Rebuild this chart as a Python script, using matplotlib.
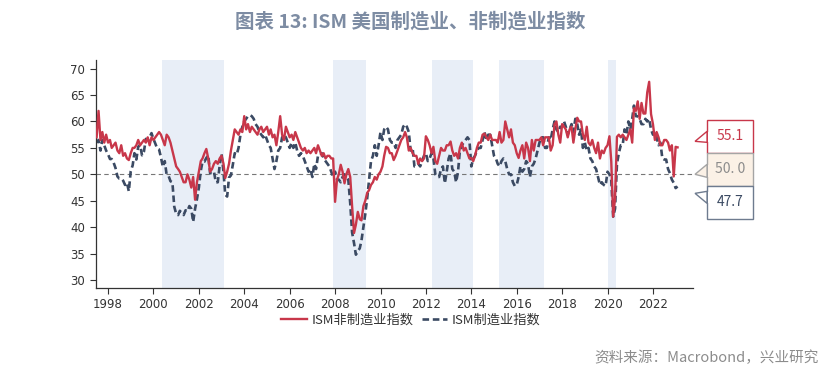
import numpy as np
import pandas as pd
import matplotlib
matplotlib.use("Agg")
import matplotlib.pyplot as plt
from matplotlib import dates as mdates
from matplotlib.patches import Polygon, Rectangle

plt.rcParams['font.family'] = ['Noto Sans CJK SC', 'DejaVu Sans']

start_month = "1997-07"

# ISM services (non-manufacturing), monthly, Jul 1997 .. Feb 2023
services = [
    57.0, 62.0, 56.5, 58.0, 56.0, 57.5,                                   # 1997 H2
    56.0, 56.5, 55.0, 55.5, 56.0, 54.5, 54.0, 55.5, 53.5, 54.0, 53.0, 52.7,  # 1998
    54.0, 55.0, 55.0, 55.5, 56.5, 55.5, 56.0, 56.5, 56.0, 57.0, 55.5, 57.0,  # 1999
    56.5, 57.0, 57.5, 58.0, 57.5, 56.5, 55.5, 57.5, 57.0, 56.0, 54.5, 53.0,  # 2000
    51.5, 51.0, 50.5, 49.5, 48.5, 48.5, 50.0, 49.0, 47.5, 49.5, 45.2, 48.5,  # 2001
    50.5, 52.5, 53.0, 54.0, 54.8, 53.0, 50.5, 51.0, 52.0, 52.5, 52.0, 53.0,  # 2002
    53.5, 52.0, 49.3, 50.5, 52.0, 54.5, 56.5, 58.5, 58.0, 57.5, 58.5, 58.0,  # 2003
    61.0, 58.5, 59.5, 58.0, 59.0, 58.5, 58.0, 57.5, 58.5, 59.0, 58.0, 58.5,  # 2004
    59.0, 57.5, 58.5, 57.0, 57.5, 55.5, 58.0, 61.0, 57.5, 56.5, 59.0, 58.0,  # 2005
    57.0, 57.5, 56.5, 58.0, 57.0, 56.0, 55.0, 54.5, 55.0, 54.0, 54.5, 54.0,  # 2006
    54.5, 55.0, 54.0, 55.5, 54.5, 53.5, 54.0, 53.0, 53.5, 53.5, 53.0, 53.0,  # 2007
    44.8, 49.0, 50.0, 51.8, 50.5, 48.3, 50.0, 51.0, 49.5, 44.0, 38.9, 40.5,  # 2008
    42.9, 41.5, 41.3, 44.0, 45.0, 46.5, 47.0, 48.0, 48.5, 49.5, 49.0, 50.0,  # 2009
    50.5, 51.5, 53.5, 55.2, 55.0, 54.0, 54.0, 52.7, 53.5, 54.5, 55.5, 56.5,  # 2010
    57.0, 58.0, 57.0, 54.5, 55.0, 54.0, 53.5, 53.5, 52.0, 53.0, 52.5, 53.0,  # 2011
    57.2, 56.5, 55.5, 54.0, 55.2, 52.5, 52.0, 53.5, 55.0, 54.5, 54.5, 55.5,  # 2012
    55.5, 56.2, 54.5, 53.5, 54.0, 53.0, 55.0, 56.0, 54.5, 55.0, 54.0, 53.0,  # 2013
    53.1, 52.5, 53.5, 55.0, 56.0, 56.0, 57.5, 57.7, 57.0, 56.5, 57.5, 56.5,  # 2014
    56.5, 56.5, 56.0, 58.0, 56.0, 56.5, 60.0, 58.5, 57.0, 58.5, 56.0, 55.5,  # 2015
    54.0, 53.1, 54.5, 55.5, 53.0, 56.0, 55.0, 52.5, 56.5, 54.5, 56.5, 56.5,  # 2016
    56.5, 57.0, 55.5, 57.0, 57.0, 57.0, 54.5, 55.5, 59.5, 60.0, 57.5, 56.0,  # 2017
    59.5, 59.0, 58.5, 57.0, 58.5, 59.0, 56.0, 58.5, 60.7, 60.0, 60.0, 57.5,  # 2018
    56.5, 59.0, 56.0, 55.5, 56.5, 55.0, 54.0, 56.0, 53.0, 54.5, 54.0, 55.0,  # 2019
    55.5, 57.2, 52.5, 42.0, 45.5, 57.1, 57.5, 57.0, 57.5, 57.0, 56.5, 57.5,  # 2020
    58.5, 56.0, 62.5, 62.0, 63.8, 60.5, 63.5, 61.5, 61.5, 65.5, 67.5, 61.4,  # 2021
    59.5, 56.5, 58.0, 57.0, 55.5, 55.5, 56.5, 56.5, 56.0, 54.5, 55.5, 49.6,  # 2022
    55.2, 55.1,                                                           # 2023
]

# ISM manufacturing PMI, monthly, Jul 1997 .. Feb 2023
manufacturing = [
    56.0, 56.5, 54.5, 56.5, 55.5, 54.5,                                   # 1997 H2
    53.8, 52.9, 52.9, 52.2, 51.2, 49.6, 49.2, 49.2, 48.8, 48.0, 48.4, 46.8,  # 1998
    50.6, 51.7, 54.0, 52.8, 55.2, 55.6, 53.6, 54.3, 56.7, 56.5, 57.0, 57.8,  # 1999
    56.7, 55.8, 54.9, 54.7, 53.2, 51.4, 52.5, 49.9, 49.7, 48.7, 48.5, 43.9,  # 2000
    42.5, 42.3, 43.1, 42.7, 42.3, 43.2, 43.0, 44.0, 43.5, 41.0, 43.5, 45.3,  # 2001
    47.5, 50.7, 52.4, 52.4, 53.1, 53.6, 50.2, 50.3, 50.5, 48.5, 48.5, 51.6,  # 2002
    53.9, 50.5, 46.2, 45.8, 49.4, 49.8, 51.8, 54.0, 53.7, 55.0, 57.5, 59.0,  # 2003
    60.0, 60.5, 61.0, 61.2, 61.0, 60.5, 59.5, 59.0, 58.0, 57.5, 57.0, 57.5,  # 2004
    56.5, 55.5, 55.0, 53.0, 51.0, 52.5, 54.5, 55.0, 57.0, 57.5, 57.0, 56.0,  # 2005
    55.0, 56.0, 55.0, 56.0, 54.5, 53.5, 54.0, 53.5, 52.5, 51.5, 50.5, 51.0,  # 2006
    49.5, 52.0, 51.0, 53.5, 53.5, 54.0, 53.0, 52.5, 52.0, 51.5, 50.5, 49.5,  # 2007
    50.5, 49.0, 49.0, 48.5, 49.5, 50.0, 49.5, 49.0, 44.5, 39.0, 37.0, 34.8,  # 2008
    35.5, 36.0, 37.5, 40.0, 42.5, 45.5, 49.0, 52.5, 53.5, 55.5, 53.5, 55.5,  # 2009
    58.0, 56.5, 58.5, 59.0, 58.5, 56.5, 56.0, 56.0, 55.0, 56.5, 57.0, 57.5,  # 2010
    59.0, 59.5, 59.0, 58.0, 54.5, 55.0, 51.5, 51.5, 52.0, 51.5, 52.5, 53.5,  # 2011
    54.0, 52.5, 53.0, 54.0, 53.0, 50.0, 49.5, 49.5, 51.0, 51.5, 48.3, 50.5,  # 2012
    53.0, 54.0, 51.0, 50.5, 48.5, 50.5, 54.5, 55.5, 56.0, 56.5, 57.0, 56.5,  # 2013
    51.5, 53.0, 53.5, 54.5, 55.0, 55.0, 56.5, 58.0, 56.5, 57.5, 57.5, 55.5,  # 2014
    53.5, 53.0, 52.0, 51.5, 52.5, 53.0, 52.5, 51.0, 50.0, 50.0, 48.5, 47.8,  # 2015
    48.0, 49.5, 51.5, 50.5, 51.0, 52.5, 52.0, 49.5, 51.5, 52.0, 53.0, 54.5,  # 2016
    56.0, 57.0, 57.0, 55.0, 55.0, 57.0, 56.5, 58.5, 60.0, 58.5, 58.0, 59.0,  # 2017
    59.0, 60.0, 59.0, 57.5, 58.5, 59.5, 58.0, 60.5, 59.5, 57.5, 58.5, 55.0,  # 2018
    56.0, 54.5, 55.0, 53.0, 52.5, 51.5, 51.0, 49.5, 48.0, 48.5, 48.0, 47.8,  # 2019
    50.5, 50.0, 49.0, 42.0, 43.5, 52.0, 54.0, 55.5, 55.5, 58.5, 57.5, 60.0,  # 2020
    58.5, 60.5, 63.0, 61.0, 61.0, 60.5, 59.5, 59.5, 60.5, 60.0, 60.5, 58.5,  # 2021
    57.5, 58.0, 57.0, 55.5, 56.0, 53.0, 52.8, 52.8, 51.0, 50.2, 49.0, 48.4,  # 2022
    47.4, 47.7,                                                           # 2023
]

# shaded periods
shade_start = ["2000-05-15", "2007-12-01", "2012-04-10", "2015-03-15", "2020-01-15"]
shade_end = ["2003-02-05", "2009-05-10", "2014-02-05", "2017-03-15", "2020-05-10"]

year_ticks = list(range(1998, 2024, 2))
label_services = "ISM非制造业指数"
label_manuf = "ISM制造业指数"
last_services = "55.1"
last_ref = "50. 0"
last_manuf = "47.7"

RED = "#C8374A"
NAVY = "#3B4A63"

dates = pd.date_range(start_month, periods=len(services), freq="MS")

fig = plt.figure(figsize=(8.34, 3.83), dpi=100)
ax = fig.add_axes([0.1148, 0.248, 0.7162, 0.595])

for s, e in zip(shade_start, shade_end):
    ax.axvspan(pd.Timestamp(s), pd.Timestamp(e), color="#E8EEF7", lw=0, zorder=0)

ax.axhline(50, color="#777777", lw=0.8, dashes=(4, 3), zorder=1)
ax.plot(dates, services, color=RED, lw=1.7, zorder=3, label=label_services)
ax.plot(dates, manufacturing, color=NAVY, lw=1.9, dashes=(2.5, 1.4), zorder=2,
        label=label_manuf)

ax.set_xlim(pd.Timestamp("1997-06-17"), pd.Timestamp("2023-10-08"))
ax.set_ylim(28.5, 71.6)
ax.set_yticks(range(30, 71, 5))
ax.set_xticks([pd.Timestamp(f"{y}-01-01") for y in year_ticks])
ax.xaxis.set_major_formatter(mdates.DateFormatter("%Y"))

for side in ("top", "right"):
    ax.spines[side].set_visible(False)
for side in ("left", "bottom"):
    ax.spines[side].set_color("#333333")
    ax.spines[side].set_linewidth(0.9)
ax.tick_params(axis="both", direction="out", length=4, width=0.8,
               color="#333333", labelcolor="#333333", labelsize=8.5)
for lab in ax.get_xticklabels() + ax.get_yticklabels():
    lab.set_family(["Liberation Sans Narrow", "DejaVu Sans"])

fig.text(0.492, 0.943, "图表 13: ISM 美国制造业、非制造业指数", ha="center", va="center",
         fontsize=14, fontweight="bold", color="#7D8CA3")

leg = fig.legend(loc="center", bbox_to_anchor=(0.493, 0.164), ncol=2, frameon=False,
                 fontsize=9.5, handlelength=1.9, handletextpad=0.4, columnspacing=0.6)
for t in leg.get_texts():
    t.set_color("#333333")

fig.text(0.981, 0.065, "资料来源：Macrobond，兴业研究", ha="right", va="center",
         fontsize=10.5, color="#8C8C8C")

# callout boxes on the right, in pixel coordinates of the figure
ov = fig.add_axes([0, 0, 1, 1], zorder=5)
ov.set_xlim(0, 834)
ov.set_ylim(383, 0)
ov.axis("off")
ov.patch.set_alpha(0)

H = 383
ax_right = ax.get_position().x1 * 834
y50 = H - ax.transData.transform((0, 50))[1]
box_l = ax_right + 14
tip_x = ax_right + 2
bw, bh = 46, 33
mid_top = y50 - 5 - bh / 2

boxes = [
    (mid_top - bh, last_services, RED, "white", RED, y50 - 33, (-10, 1)),
    (mid_top, last_ref, "#A5A5A5", "#FBF1E6", "#8C8C8C", y50, (-10, 3)),
    (mid_top + bh, last_manuf, "#6E7B8F", "white", NAVY, y50 + 19, (-2, 10)),
]
for top, txt, ec, fc, tc, tip_y, (d1, d2) in boxes:
    ov.add_patch(Rectangle((box_l, top), bw, bh, facecolor=fc, edgecolor=ec, lw=1.0))
    ov.add_patch(Polygon([(box_l, tip_y + d1), (tip_x, tip_y), (box_l, tip_y + d2)],
                         closed=True, facecolor=fc, edgecolor=ec, lw=1.0))
    ov.add_patch(Rectangle((box_l + 0.5, min(tip_y + d1, tip_y + d2) + 0.8), 1.5,
                           abs(d2 - d1) - 1.6, facecolor=fc, edgecolor="none"))
    ov.text(box_l + bw / 2, top + bh / 2, txt, ha="center", va="center",
            fontsize=10, color=tc)

fig.savefig("out.png", dpi=100)
